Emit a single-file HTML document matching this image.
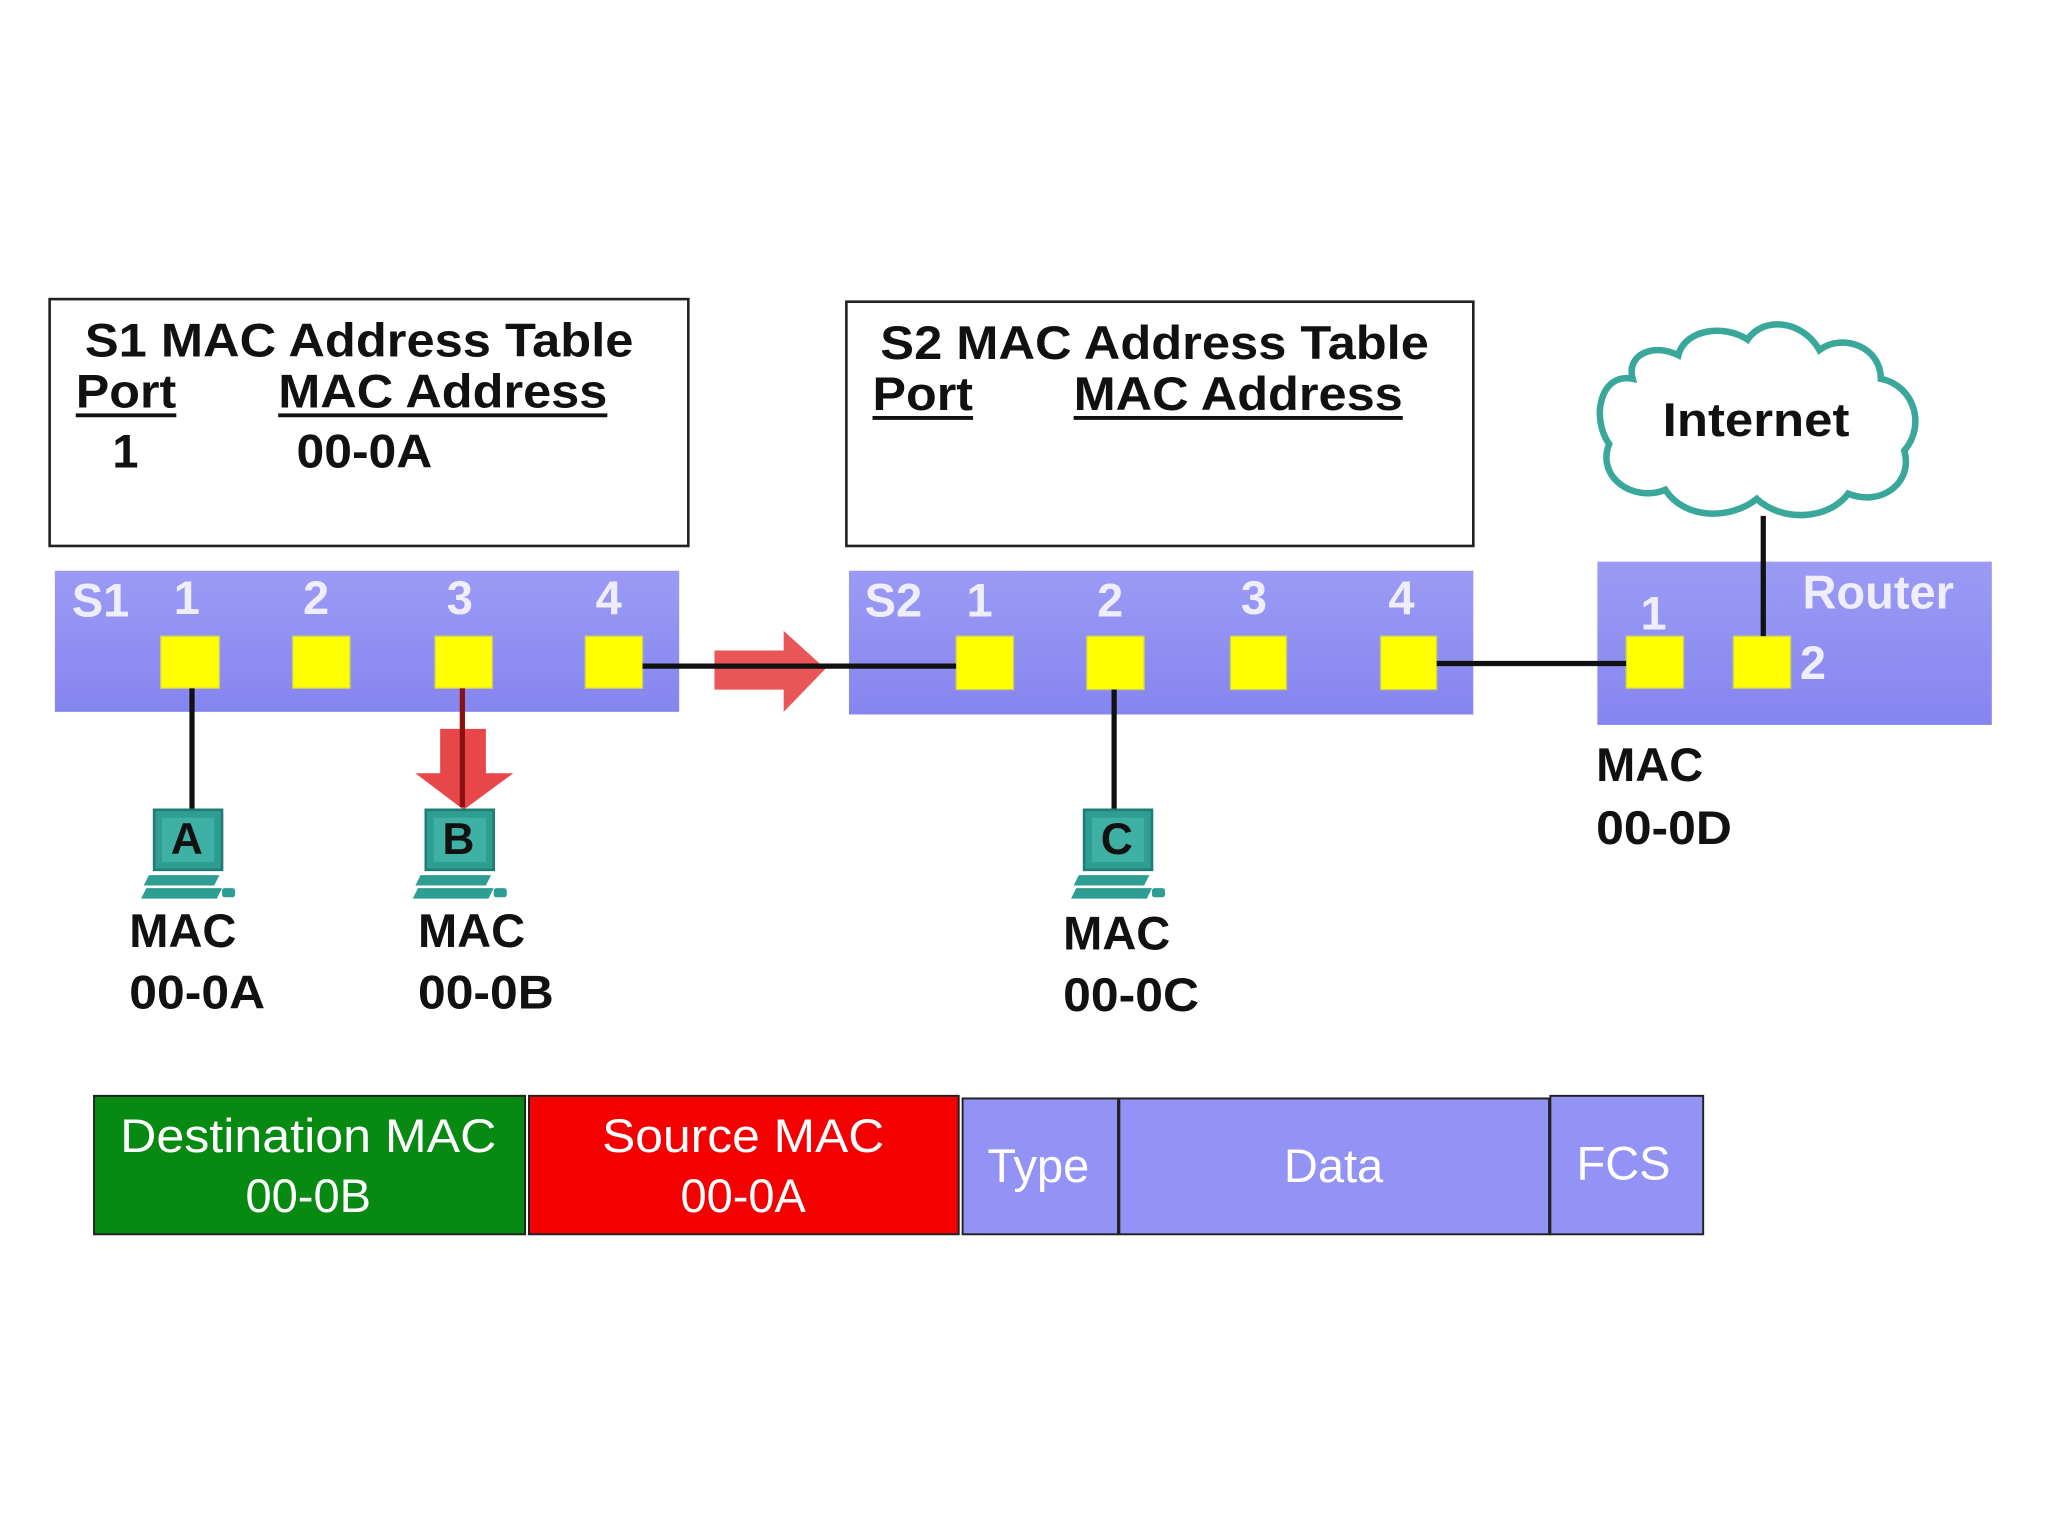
<!DOCTYPE html>
<html><head><meta charset="utf-8"><style>
html,body{margin:0;padding:0;background:#fff;}
svg{display:block;}
text{font-family:"Liberation Sans",Arial,sans-serif;}
</style></head><body>
<svg width="2048" height="1536" viewBox="0 0 1568 1176" xmlns="http://www.w3.org/2000/svg">
<defs>
<linearGradient id="sw" x1="0" y1="0" x2="0" y2="1">
<stop offset="0" stop-color="#9b9bf5"/><stop offset="1" stop-color="#8585ef"/>
</linearGradient>
<g id="pc">
<path d="M10 2 H62 V48 H10 Z" fill="#2e9d92" stroke="#1f7d73" stroke-width="2"/>
<rect x="16" y="8" width="40" height="34" fill="#3fb0a4"/>
<path d="M6 52 H60 L56 60 H2 Z" fill="#2e9d92"/>
<path d="M4 62 H62 L58 70 H0 Z" fill="#2e9d92"/>
<rect x="62" y="62" width="10" height="7" rx="2" fill="#2e9d92"/>
</g>
</defs>
<rect width="1568" height="1176" fill="#fff"/>

<rect x="38" y="229" width="489" height="189" fill="#fff" stroke="#222" stroke-width="2"/>
<g font-weight="bold" font-size="36" fill="#111">
<text x="65" y="273" textLength="420" lengthAdjust="spacingAndGlyphs">S1 MAC Address Table</text>
<text x="58" y="312" textLength="77" lengthAdjust="spacingAndGlyphs">Port</text>
<text x="213" y="312" textLength="252" lengthAdjust="spacingAndGlyphs">MAC Address</text>
<text x="86" y="358">1</text>
<text x="227" y="358" textLength="104" lengthAdjust="spacingAndGlyphs">00-0A</text>
</g>
<line x1="58" y1="318" x2="135" y2="318" stroke="#111" stroke-width="3"/>
<line x1="213" y1="318" x2="465" y2="318" stroke="#111" stroke-width="3"/>

<rect x="648" y="231" width="480" height="187" fill="#fff" stroke="#222" stroke-width="2"/>
<g font-weight="bold" font-size="36" fill="#111">
<text x="674" y="275" textLength="420" lengthAdjust="spacingAndGlyphs">S2 MAC Address Table</text>
<text x="668" y="314" textLength="77" lengthAdjust="spacingAndGlyphs">Port</text>
<text x="822" y="314" textLength="252" lengthAdjust="spacingAndGlyphs">MAC Address</text>
</g>
<line x1="668" y1="320" x2="745" y2="320" stroke="#111" stroke-width="3"/>
<line x1="822" y1="320" x2="1074" y2="320" stroke="#111" stroke-width="3"/>

<path d="M1250 290 C1225 285 1218 320 1232 340 C1222 365 1250 385 1275 375 C1290 398 1325 398 1345 382 C1365 400 1400 398 1415 378 C1440 388 1465 370 1458 345 C1475 325 1465 295 1440 290 C1440 265 1410 255 1393 268 C1380 245 1350 242 1338 260 C1320 248 1290 252 1285 272 C1265 262 1245 272 1250 290 Z" fill="#fff" stroke="#3aa79b" stroke-width="5"/>
<text x="1273" y="334" font-size="36" font-weight="bold" fill="#111" textLength="143" lengthAdjust="spacingAndGlyphs">Internet</text>

<rect x="42" y="437" width="478" height="108" fill="url(#sw)"/>
<g font-size="36" font-weight="bold" fill="#eef">
<text x="55" y="472">S1</text><text x="133" y="470">1</text><text x="232" y="470">2</text><text x="342" y="470">3</text><text x="456" y="470">4</text>
</g>
<g fill="#ffff00" stroke="#c8c870" stroke-width="1">
<rect x="123" y="487" width="45" height="40"/><rect x="224" y="487" width="44" height="40"/><rect x="333" y="487" width="44" height="40"/><rect x="448" y="487" width="44" height="40"/>
</g>

<rect x="650" y="437" width="478" height="110" fill="url(#sw)"/>
<g font-size="36" font-weight="bold" fill="#eef">
<text x="662" y="472">S2</text><text x="740" y="472">1</text><text x="840" y="472">2</text><text x="950" y="470">3</text><text x="1063" y="470">4</text>
</g>
<g fill="#ffff00" stroke="#c8c870" stroke-width="1">
<rect x="732" y="487" width="44" height="41"/><rect x="832" y="487" width="44" height="41"/><rect x="942" y="487" width="43" height="41"/><rect x="1057" y="487" width="43" height="41"/>
</g>

<rect x="1223" y="430" width="302" height="125" fill="url(#sw)"/>
<g font-size="36" font-weight="bold" fill="#eef">
<text x="1380" y="466">Router</text><text x="1256" y="482">1</text><text x="1378" y="520">2</text>
</g>
<g fill="#ffff00" stroke="#c8c870" stroke-width="1">
<rect x="1245" y="487" width="44" height="40"/><rect x="1327" y="487" width="44" height="40"/>
</g>

<g stroke="#111" stroke-width="4">
<line x1="492" y1="510" x2="732" y2="510"/>
<line x1="1100" y1="508" x2="1245" y2="508"/>
<line x1="1350" y1="395" x2="1350" y2="487"/>
<line x1="147" y1="527" x2="147" y2="620"/>
<line x1="853" y1="528" x2="853" y2="620"/>
</g>
<path d="M547 498 H600 V483 L632 512 L600 545 V528 H547 Z" fill="#e8474a" opacity="0.92"/>
<line x1="547" y1="510" x2="632" y2="510" stroke="#111" stroke-width="4"/>
<path d="M337 558 H372 V592 H393 L355 620 L318 592 H337 Z" fill="#e8474a"/>
<line x1="354" y1="527" x2="354" y2="618" stroke="#8b1010" stroke-width="4"/>

<use href="#pc" x="108" y="618"/><use href="#pc" x="316" y="618"/><use href="#pc" x="820" y="618"/>
<g font-size="34" font-weight="bold" fill="#111" text-anchor="middle">
<text x="143" y="654">A</text><text x="351" y="654">B</text><text x="855" y="654">C</text>
</g>

<g font-size="36" font-weight="bold" fill="#111">
<text x="99" y="725">MAC</text><text x="99" y="772" textLength="104" lengthAdjust="spacingAndGlyphs">00-0A</text>
<text x="320" y="725">MAC</text><text x="320" y="772" textLength="104" lengthAdjust="spacingAndGlyphs">00-0B</text>
<text x="814" y="727">MAC</text><text x="814" y="774" textLength="104" lengthAdjust="spacingAndGlyphs">00-0C</text>
<text x="1222" y="598">MAC</text><text x="1222" y="646" textLength="104" lengthAdjust="spacingAndGlyphs">00-0D</text>
</g>

<rect x="72" y="839" width="330" height="106" fill="#078a12" stroke="#222" stroke-width="1.5"/>
<rect x="405" y="839" width="329" height="106" fill="#f40000" stroke="#222" stroke-width="1.5"/>
<rect x="737" y="841" width="119" height="104" fill="#9393f5" stroke="#222" stroke-width="1.5"/>
<rect x="857" y="841" width="329" height="104" fill="#9393f5" stroke="#222" stroke-width="1.5"/>
<rect x="1187" y="839" width="117" height="106" fill="#9393f5" stroke="#222" stroke-width="1.5"/>
<g font-size="36" fill="#fff" text-anchor="middle">
<text x="236" y="882" textLength="288" lengthAdjust="spacingAndGlyphs">Destination MAC</text>
<text x="236" y="928">00-0B</text>
<text x="569" y="882" textLength="216" lengthAdjust="spacingAndGlyphs">Source MAC</text>
<text x="569" y="928">00-0A</text>
<text x="795" y="905">Type</text>
<text x="1021" y="905">Data</text>
<text x="1243" y="903">FCS</text>
</g>
</svg>
</body></html>
